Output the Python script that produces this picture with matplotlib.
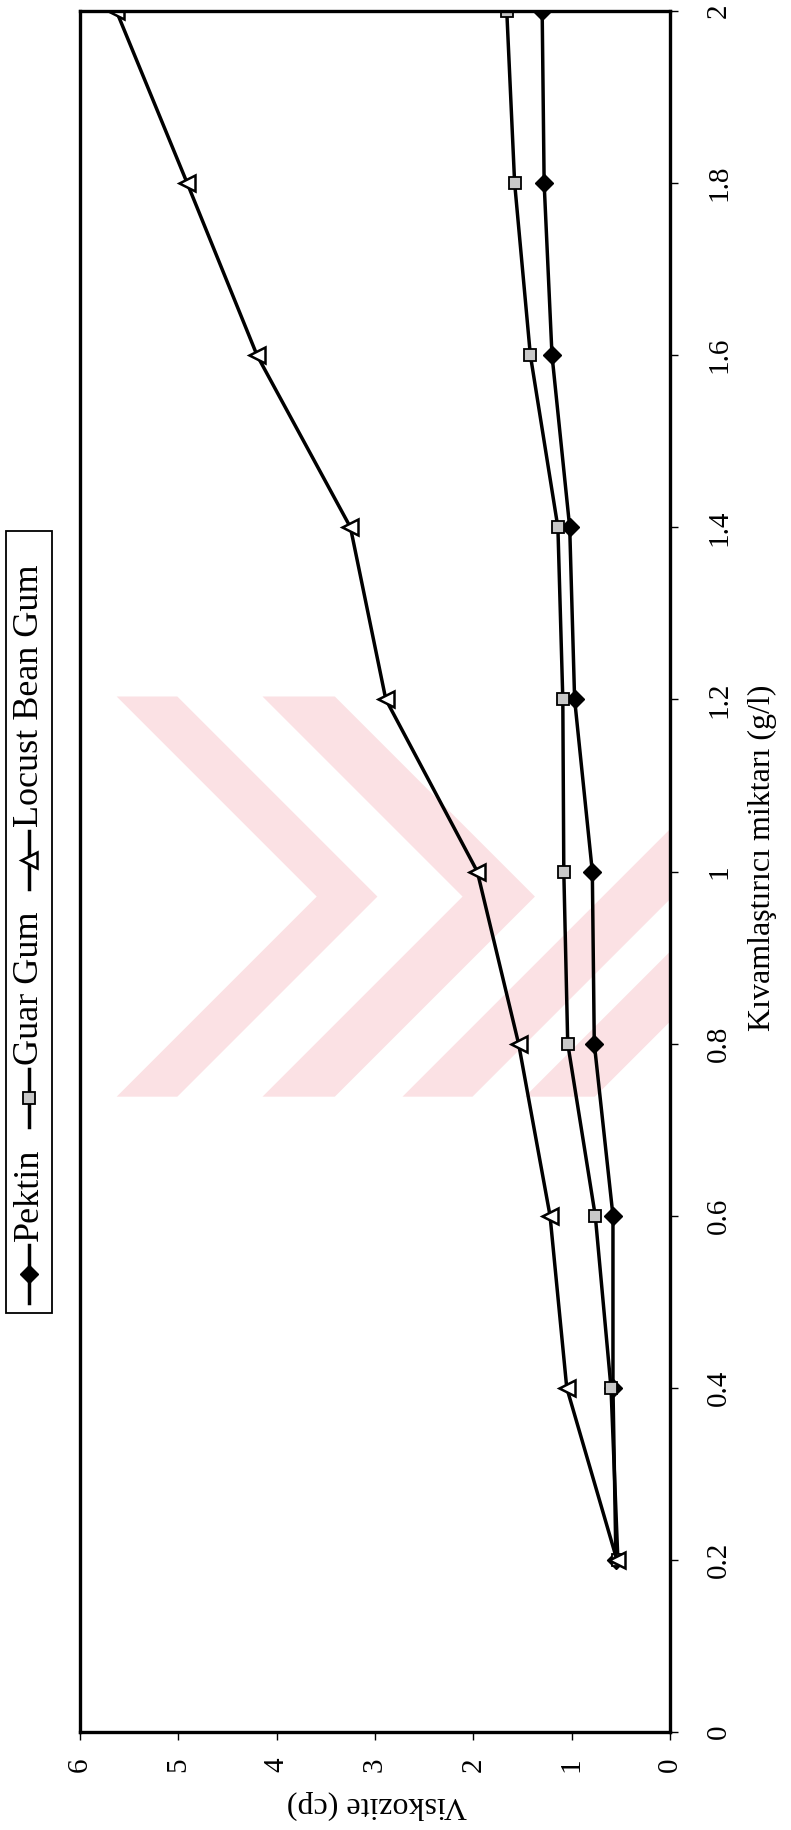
import matplotlib.pyplot as plt
from matplotlib.patches import Rectangle, Polygon

# data (g/l vs viscosity, cp)
conc = [0.2, 0.4, 0.6, 0.8, 1.0, 1.2, 1.4, 1.6, 1.8, 2.0]
pektin = [0.55, 0.58, 0.58, 0.77, 0.79, 0.97, 1.02, 1.20, 1.28, 1.30]
guar = [0.53, 0.60, 0.76, 1.04, 1.08, 1.09, 1.14, 1.42, 1.58, 1.66]
locust = [0.54, 1.05, 1.22, 1.54, 1.96, 2.89, 3.25, 4.20, 4.91, 5.63]

y_ticks = [0, 0.2, 0.4, 0.6, 0.8, 1.0, 1.2, 1.4, 1.6, 1.8, 2.0]
y_labels = ['0', '0.2', '0.4', '0.6', '0.8', '1', '1.2', '1.4', '1.6', '1.8', '2']
x_ticks = [0, 1, 2, 3, 4, 5, 6]

plt.rcParams['font.family'] = ['Liberation Serif', 'DejaVu Serif']

W, H = 791, 1830
fig = plt.figure(figsize=(W / 100, H / 100), dpi=100)

# faint watermark behind the chart (pixel coords, y down)
wax = fig.add_axes([0, 0, 1, 1], zorder=0)
wax.set_xlim(0, W)
wax.set_ylim(H, 0)
wax.axis('off')
k = 791 / 678
y0, y1 = 597 * k, 940 * k
ym = (y0 + y1) / 2
half = (y1 - y0) / 2
pink = '#fbe1e4'
for xl, bw in [(100 * k, 52 * k), (225 * k, 62 * k)]:
    pts = [(xl, y0), (xl + bw, y0), (xl + bw + half, ym), (xl + bw, y1), (xl, y1), (xl + half, ym)]
    wax.add_patch(Polygon(pts, closed=True, fc=pink, ec='none'))
for xb, bw in [(345 * k, 60 * k), (450 * k, 60 * k)]:
    xr = 575 * k
    pts = [(xb, y1), (xb + bw, y1), (xr, y1 - (xr - xb - bw)), (xr, y1 - (xr - xb))]
    wax.add_patch(Polygon(pts, closed=True, fc=pink, ec='none'))

# the chart is drawn turned a quarter turn: viscosity runs right-to-left
ax = fig.add_axes([80 / W, 1 - 1732 / H, (670 - 80) / W, (1732 - 11) / H], zorder=1)
ax.set_facecolor('none')

styles = {
    'Pektin': dict(marker='D', ms=9, mfc='black', mec='black'),
    'Guar Gum': dict(marker='s', ms=8, mfc='#c8c8c8', mec='black', mew=1.3),
    'Locust Bean Gum': dict(marker='<', ms=11, mfc='white', mec='black', mew=1.8),
}
series = {'Pektin': pektin, 'Guar Gum': guar, 'Locust Bean Gum': locust}

for name, vals in series.items():
    ax.plot(vals, conc, color='black', lw=2.5, **styles[name])

ax.set_xlim(6, 0)
ax.set_ylim(0, 2)
ax.set_xticks(x_ticks)
ax.set_yticks(y_ticks)
ax.set_yticklabels(y_labels)
ax.yaxis.tick_right()

for sp in ax.spines.values():
    sp.set_linewidth(2.4)

ax.tick_params(axis='both', direction='out', length=6, width=1)
ax.tick_params(axis='x', labelsize=21, labelrotation=90, pad=12)
ax.tick_params(axis='y', labelsize=21, labelrotation=90, pad=20)
for lab in ax.get_yticklabels():
    lab.set_va('center')

ax.set_xlabel('Viskozite (cp)', fontsize=23, rotation=180, va='center', ha='center')
ax.xaxis.set_label_coords(0.503, -(1805 - 1732) / 1721)
ax.yaxis.set_label_position('right')
ax.set_ylabel('Kıvamlaştırıcı miktarı (g/l)', fontsize=23, rotation=90, va='center', ha='center')
ax.yaxis.set_label_coords((762 - 80) / 590, 0.508)

# legend, built by hand so it can be turned as well
bx0, by0, bw, bh = 6, 1313, 46, 782
lax = fig.add_axes([bx0 / W, 1 - by0 / H, bw / W, bh / H], zorder=2)
lax.set_xlim(0, bw)
lax.set_ylim(0, bh)
lax.axis('off')
lax.add_patch(Rectangle((0, 0), bw, bh, fill=False, ec='black', lw=1.3, clip_on=False))

renderer = fig.canvas.get_renderer()
y = 10
for name in ['Pektin', 'Guar Gum', 'Locust Bean Gum']:
    lax.plot([bw / 2, bw / 2], [y, y + 58], color='black', lw=2.5)
    lax.plot([bw / 2], [y + 29], color='black', **styles[name])
    t = lax.text(bw / 2, y + 62, name, rotation=90, ha='center', va='bottom', fontsize=26)
    h = t.get_window_extent(renderer=renderer).height
    y = y + 62 + h + 22

fig.savefig('out.png', dpi=100)
